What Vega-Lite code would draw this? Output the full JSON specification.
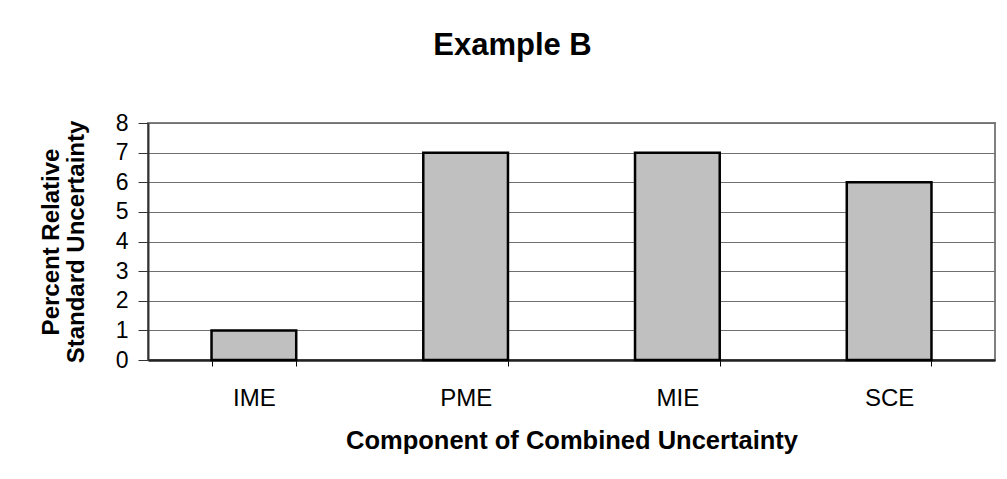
{
  "$schema": "https://vega.github.io/schema/vega-lite/v6.json",
  "autosize": {"type": "none"},
  "width": 847,
  "height": 237,
  "padding": {"left": 148, "top": 123, "right": 12, "bottom": 119},
  "background": "white",
  "title": {
    "text": "Example B",
    "font": "Liberation Sans",
    "fontSize": 31,
    "fontWeight": "bold",
    "color": "black",
    "anchor": "middle",
    "dx": -59,
    "baseline": "alphabetic",
    "offset": 26
  },
  "data": {
    "values": [
      {"component": "IME", "value": 1},
      {"component": "PME", "value": 7},
      {"component": "MIE", "value": 7},
      {"component": "SCE", "value": 6}
    ]
  },
  "mark": {"type": "bar", "fill": "#c0c0c0", "stroke": "black", "strokeWidth": 2.5},
  "encoding": {
    "x": {
      "field": "component",
      "type": "nominal",
      "sort": null,
      "scale": {"paddingInner": 0.6, "paddingOuter": 0.3},
      "axis": {
        "title": "Component of Combined Uncertainty",
        "labelAngle": 0,
        "tickBand": "extent",
        "tickSize": 6,
        "tickColor": "black",
        "domainColor": "#222",
        "domainWidth": 2.5,
        "labelFont": "Liberation Sans",
        "labelFontSize": 24,
        "labelColor": "black",
        "labelBaseline": "alphabetic",
        "labelPadding": 39,
        "titleFont": "Liberation Sans",
        "titleFontSize": 25.5,
        "titleFontWeight": "bold",
        "titleColor": "black",
        "titleBaseline": "alphabetic",
        "titlePadding": 38
      }
    },
    "y": {
      "field": "value",
      "type": "quantitative",
      "scale": {"domain": [0, 8], "nice": false},
      "axis": {
        "values": [0, 1, 2, 3, 4, 5, 6, 7, 8],
        "title": ["Percent Relative", "Standard Uncertainty"],
        "grid": true,
        "gridColor": "#707070",
        "gridWidth": 1,
        "gridOpacity": 1,
        "tickSize": 10,
        "tickColor": "#333",
        "domainColor": "#333",
        "domainWidth": 2,
        "labelFont": "Liberation Sans",
        "labelFontSize": 23,
        "labelColor": "black",
        "labelPadding": 10,
        "titleFont": "Liberation Sans",
        "titleFontSize": 24,
        "titleFontWeight": "bold",
        "titleColor": "black",
        "titleLineHeight": 25,
        "titlePadding": 27
      }
    }
  },
  "config": {
    "view": {"stroke": "#808080", "strokeWidth": 2}
  }
}
